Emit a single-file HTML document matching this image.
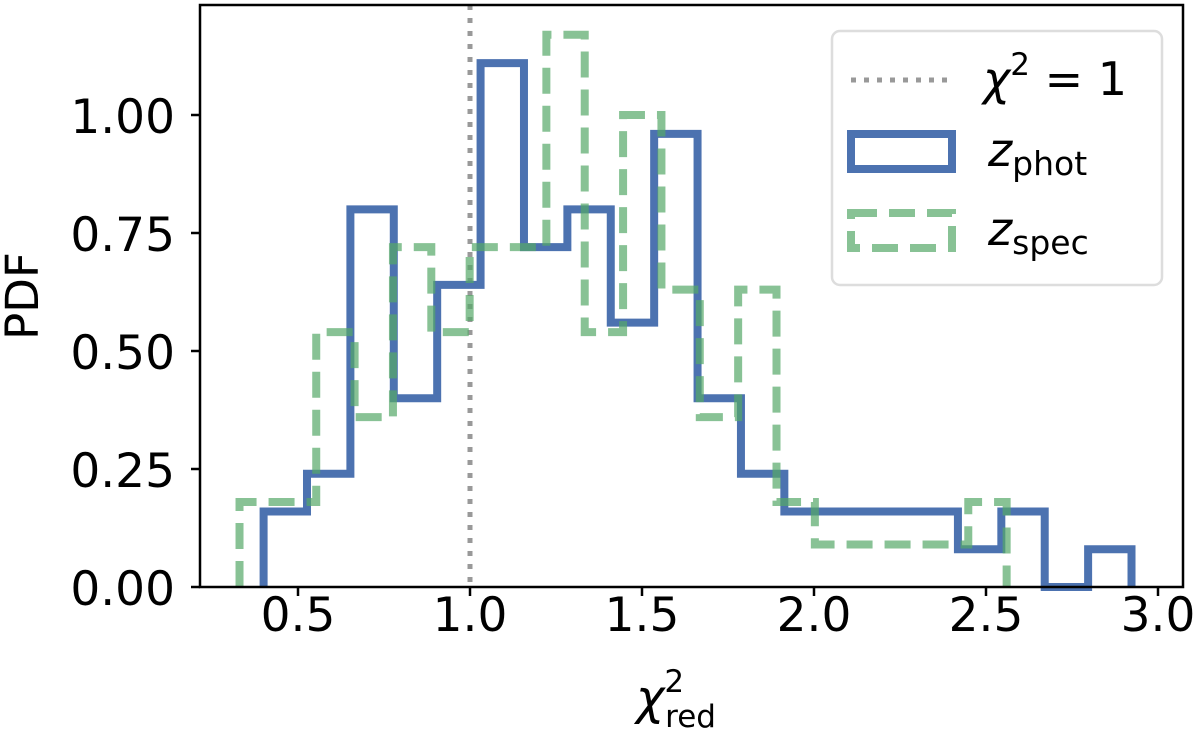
<!DOCTYPE html>
<html><head><meta charset="utf-8"><style>
body{margin:0;background:#fff}
svg{display:block;font-family:"DejaVu Sans","Liberation Sans",sans-serif}
</style></head><body>
<svg id="chart" width="1200" height="738" viewBox="0 0 1200 738">
<g id="plot"></g>
</svg>
<script>
const phot_start = 0.40, phot_end = 2.923;
const phot_values = [0.16,0.24,0.80,0.40,0.64,1.11,0.72,0.80,0.56,0.96,0.40,0.24,0.16,0.16,0.16,0.16,0.08,0.16,0.00,0.08];
const spec_start = 0.33, spec_end = 2.56;
const spec_values = [0.18,0.18,0.54,0.36,0.72,0.54,0.72,0.72,1.17,0.54,1.00,0.63,0.36,0.63,0.18,0.09,0.09,0.09,0.09,0.18];
const x_ticks = [0.5,1.0,1.5,2.0,2.5,3.0];
const x_tick_labels = ["0.5","1.0","1.5","2.0","2.5","3.0"];
const y_ticks = [0,0.25,0.5,0.75,1.0];
const y_tick_labels = ["0.00","0.25","0.50","0.75","1.00"];
const ref_line = 1.0;

const NS="http://www.w3.org/2000/svg";
const L=200,R=1183,T=5,B=587;
const xs=v=>470+(v-1)*344;
const ys=v=>B-v*472;
const g=document.getElementById('plot');
function mk(tag,attrs,parent){const e=document.createElementNS(NS,tag);for(const k in attrs)e.setAttribute(k,attrs[k]);(parent||g).appendChild(e);return e;}
function stepPath(start,end,vals){
  const w=(end-start)/vals.length;
  let d=`M${xs(start)},${ys(0)}`;
  vals.forEach((v,i)=>{d+=` L${xs(start+i*w)},${ys(v)} L${xs(start+(i+1)*w)},${ys(v)}`;});
  d+=` L${xs(end)},${ys(0)}`;
  return d;
}
const defs=mk('defs',{});
const cp=mk('clipPath',{id:'cp'},defs);
mk('rect',{x:L,y:T,width:R-L,height:B-T+4},cp);
const cg=mk('g',{'clip-path':'url(#cp)'});
let e;
e=mk('line',{x1:xs(ref_line),x2:xs(ref_line),y1:T,y2:B,stroke:'#999',"stroke-width":5,"stroke-dasharray":"5 8"},cg);

e=mk('path',{d:stepPath(phot_start,phot_end,phot_values),fill:'none',stroke:'#4c72b0',"stroke-width":8},cg);

e=mk('path',{d:stepPath(spec_start,spec_end,spec_values),fill:'none',stroke:'#55a868',"stroke-opacity":0.7,"stroke-width":8,"stroke-dasharray":"26 12"},cg);

e=mk('rect',{x:L,y:T,width:R-L,height:B-T,fill:'none',stroke:'#000',"stroke-width":2.5});

x_ticks.forEach((v,i)=>{
  e=mk('line',{x1:xs(v),x2:xs(v),y1:B,y2:B+9,stroke:'#000',"stroke-width":2.5});
  
  e=mk('text',{x:xs(v),y:B+44,"text-anchor":"middle","font-size":47});
  e.textContent=x_tick_labels[i];
  
});
y_ticks.forEach((v,i)=>{
  e=mk('line',{x1:L-9,x2:L,y1:ys(v),y2:ys(v),stroke:'#000',"stroke-width":2.5});
  
  e=mk('text',{x:L-25,y:ys(v)+18,"text-anchor":"end","font-size":47});
  e.textContent=y_tick_labels[i];
  
});
</script>
<svg style="position:absolute;left:0;top:0" width="1200" height="738">
<text x="38" y="296" font-size="45" text-anchor="middle" transform="rotate(-90 38 296)" font-family="DejaVu Sans, Liberation Sans, sans-serif">PDF</text>
<text x="636" y="714" font-size="48" font-style="italic" font-family="DejaVu Sans, Liberation Sans, sans-serif">χ<tspan dy="-22" font-size="31" font-style="normal">2</tspan><tspan dx="-19" dy="35" font-size="31" font-style="normal">red</tspan></text>
<g>
<rect x="832" y="31" width="330" height="254" rx="8" fill="#fff" fill-opacity="0.85" stroke="#ddd" stroke-width="2.5"/>
<line x1="851" y1="80" x2="951" y2="80" stroke="#999" stroke-width="5" stroke-dasharray="5 8"/>
<text x="983" y="95" font-size="46" font-family="DejaVu Sans, Liberation Sans, sans-serif"><tspan font-style="italic">χ</tspan><tspan dy="-20" font-size="31">2</tspan><tspan dy="20"> = 1</tspan></text>
<rect x="851" y="134" width="101" height="35" fill="none" stroke="#4c72b0" stroke-width="8"/>
<text x="988" y="166" font-size="46" font-style="italic" font-family="DejaVu Sans, Liberation Sans, sans-serif">z<tspan font-style="normal" font-size="33" dy="9">phot</tspan></text>
<rect x="851" y="213" width="101" height="35" fill="none" stroke="#55a868" stroke-opacity="0.7" stroke-width="8" stroke-dasharray="26 12"/>
<text x="988" y="245" font-size="46" font-style="italic" font-family="DejaVu Sans, Liberation Sans, sans-serif">z<tspan font-style="normal" font-size="33" dy="9">spec</tspan></text>
</g>
</svg>
</body></html>
